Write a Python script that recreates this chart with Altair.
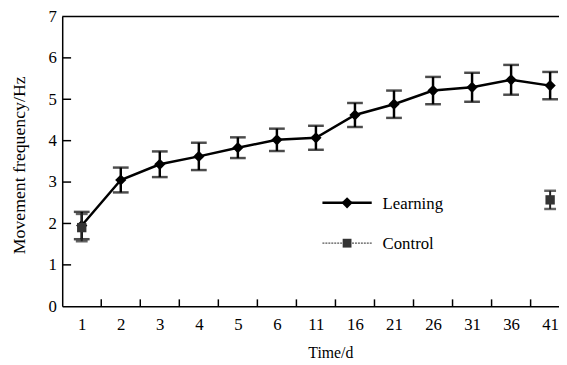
import json
import altair as alt
import pandas as pd

days = ["1", "2", "3", "4", "5", "6", "11", "16", "21", "26", "31", "36", "41"]
learning_mean = [1.95, 3.05, 3.43, 3.62, 3.83, 4.02, 4.07, 4.62, 4.88, 5.21, 5.29, 5.47, 5.33]
learning_err = [0.33, 0.30, 0.31, 0.33, 0.25, 0.27, 0.29, 0.29, 0.33, 0.33, 0.35, 0.36, 0.33]
control_days = ["1", "41"]
control_mean = [1.90, 2.57]
control_err = [0.33, 0.22]
y_ticks = [1, 2, 3, 4, 5, 6]
series_names = ["Learning", "Control"]
y_title = "Movement frequency/Hz"
x_title = "Time/d"

FONT = "Liberation Serif"
W, H = 504, 294
STEP = 39.6
XMAX = W / STEP - 0.5  # the plot runs past the right edge of the picture, as in the source

learn = pd.DataFrame({"idx": list(range(len(days))), "day": days,
                      "mean": learning_mean, "err": learning_err})
ctrl = pd.DataFrame({"idx": [days.index(d) for d in control_days], "day": control_days,
                     "mean": control_mean, "err": control_err})
ytk = pd.DataFrame({"v": y_ticks})

xscale = alt.Scale(domain=[-0.5, XMAX], nice=False, zero=False)
yscale = alt.Scale(domain=[0, 7], nice=False)
label_expr = json.dumps(days) + "[datum.value]"

xaxis = alt.Axis(title=x_title, values=list(range(len(days))), labelExpr=label_expr,
                 labelAngle=0, ticks=False, grid=False,
                 domainColor="black", domainWidth=1.5,
                 labelFont=FONT, labelFontSize=17, labelColor="black",
                 labelPadding=11, labelFlush=False, labelOverlap=False,
                 titleFont=FONT, titleFontSize=16,
                 titleFontWeight="normal", titleColor="black",
                 titlePadding=12, titleX=272)
yaxis = alt.Axis(title=None, values=[0, 1, 2, 3, 4, 5, 6, 7],
                 ticks=False, grid=False, domainColor="black", domainWidth=1.5,
                 labelFont=FONT, labelFontSize=17, labelColor="black",
                 labelPadding=6)

X = alt.X("idx:Q", scale=xscale, axis=xaxis)


def Y(field):
    return alt.Y(field, scale=yscale, axis=yaxis)


base_l = alt.Chart(learn).transform_calculate(
    lo="datum.mean - datum.err", hi="datum.mean + datum.err")
base_c = alt.Chart(ctrl).transform_calculate(
    lo="datum.mean - datum.err", hi="datum.mean + datum.err")

l_line = base_l.mark_line(color="black", strokeWidth=2.5).encode(x=X, y=Y("mean:Q"))
l_bar = base_l.mark_rule(color="black", strokeWidth=2.5).encode(
    x=X, y=Y("lo:Q"), y2="hi:Q")
l_cap_lo = base_l.mark_tick(color="black", thickness=2.5, size=16, orient="horizontal").encode(
    x=X, y=Y("lo:Q"))
l_cap_hi = base_l.mark_tick(color="black", thickness=2.5, size=16, orient="horizontal").encode(
    x=X, y=Y("hi:Q"))
l_pts = base_l.mark_point(shape="diamond", filled=True, color="black", size=130, opacity=1).encode(
    x=X, y=Y("mean:Q"))

c_bar = base_c.mark_rule(color="#222", strokeWidth=2).encode(
    x=X, y=Y("lo:Q"), y2="hi:Q")
c_cap_lo = base_c.mark_tick(color="#222", thickness=2.5, size=12, orient="horizontal").encode(
    x=X, y=Y("lo:Q"))
c_cap_hi = base_c.mark_tick(color="#222", thickness=2.5, size=12, orient="horizontal").encode(
    x=X, y=Y("hi:Q"))
c_pts = base_c.mark_point(shape="square", filled=True, color="#333", size=90, opacity=1).encode(
    x=X, y=Y("mean:Q"))

# inward axis ticks (x ticks sit between the day categories)
x_ticks = alt.Chart(learn).transform_calculate(b="datum.idx + 0.5").transform_filter(
    f"datum.b < {XMAX}").mark_rule(color="black", strokeWidth=1.5).encode(
    x=alt.X("b:Q", scale=xscale, axis=xaxis), y=alt.value(H - 7), y2=alt.value(H))
y_ticks_m = alt.Chart(ytk).mark_rule(color="black", strokeWidth=1.5).encode(
    y=Y("v:Q"), x=alt.value(0), x2=alt.value(9))
top_line = alt.Chart(ytk).transform_filter("datum.v == 1").mark_rule(
    color="black", strokeWidth=1.5).encode(x=alt.value(0), x2=alt.value(W), y=alt.value(0))

# y-axis title (drawn as text so it can sit where the source has it)
ytitle = alt.Chart(pd.DataFrame({"t": [y_title]})).mark_text(
    angle=270, align="center", baseline="middle", font=FONT, fontSize=18, color="black").encode(
    x=alt.value(-43), y=alt.value(151), text="t:N")

# legend
leg1 = pd.DataFrame({"label": [series_names[0]]})
leg2 = pd.DataFrame({"label": [series_names[1]]})
LX, LY1, LY2 = 264, 189, 230
leg_l_line = alt.Chart(leg1).mark_rule(color="black", strokeWidth=2.5).encode(
    x=alt.value(LX), x2=alt.value(LX + 50), y=alt.value(LY1))
leg_l_pt = alt.Chart(leg1).mark_point(shape="diamond", filled=True, color="black", size=130, opacity=1).encode(
    x=alt.value(LX + 25), y=alt.value(LY1))
leg_l_txt = alt.Chart(leg1).mark_text(align="left", baseline="middle", font=FONT, fontSize=17, color="black").encode(
    x=alt.value(LX + 61), y=alt.value(LY1 + 1), text="label:N")
leg_c_line = alt.Chart(leg2).mark_rule(color="#555", strokeWidth=1.3, strokeDash=[2, 1]).encode(
    x=alt.value(LX), x2=alt.value(LX + 50), y=alt.value(LY2))
leg_c_pt = alt.Chart(leg2).mark_point(shape="square", filled=True, color="#333", size=80, opacity=1).encode(
    x=alt.value(LX + 25), y=alt.value(LY2))
leg_c_txt = alt.Chart(leg2).mark_text(align="left", baseline="middle", font=FONT, fontSize=17, color="black").encode(
    x=alt.value(LX + 61), y=alt.value(LY2 + 1), text="label:N")

chart = alt.layer(
    top_line, x_ticks, y_ticks_m,
    l_line, l_bar, l_cap_lo, l_cap_hi, l_pts,
    c_bar, c_cap_lo, c_cap_hi, c_pts,
    ytitle,
    leg_l_line, leg_l_pt, leg_l_txt, leg_c_line, leg_c_pt, leg_c_txt,
).properties(
    width=W, height=H,
    autosize=alt.AutoSizeParams(type="none"),
    padding={"left": 55, "top": 6, "right": 0, "bottom": 57},
    background="white",
).configure_view(stroke=None)

chart.save("out.html", embed_options={"renderer": "svg", "actions": False})
